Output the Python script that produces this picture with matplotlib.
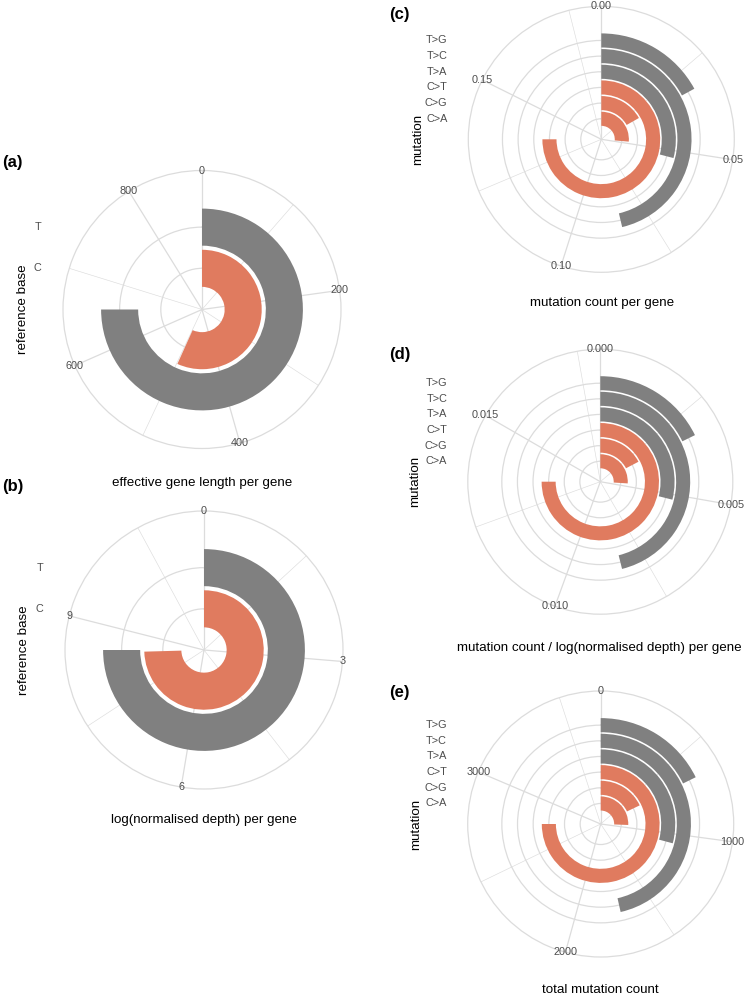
import numpy as np
import matplotlib
matplotlib.use('Agg')
import matplotlib.pyplot as plt

plt.rcParams['font.family'] = ['Liberation Sans', 'DejaVu Sans']

# data
ref_base = ['C', 'T']
gene_length = [498, 658]
log_depth = [8.50, 8.55]

mutations = ['C>A', 'C>G', 'C>T', 'T>A', 'T>C', 'T>G']
count_per_gene = [0.048, 0.0306, 0.1366, 0.0529, 0.0843, 0.0311]
count_per_depth = [0.00468, 0.00312, 0.0135, 0.0052, 0.0083, 0.00319]
total_count = [942, 660, 2764, 1075, 1712, 653]

ticks_a = [0, 200, 400, 600, 800]
ticks_b = [0, 3, 6, 9]
ticks_c = [0.00, 0.05, 0.10, 0.15]
ticks_d = [0.000, 0.005, 0.010, 0.015]
ticks_e = [0, 1000, 2000, 3000]

ORANGE = '#E07B5F'
GREY = '#808080'
GRID = '#DCDCDC'
TXT = '#4D4D4D'

W, H = 745, 997
fig = plt.figure(figsize=(W / 100, H / 100), dpi=100)


def radial(cx, cy, R, cats, vals, ticks, fmt, step, rlim, tag, xlab, ylab,
           ylab_dx, tag_xy, xlab_xy):
    ax = fig.add_axes([(cx - R) / W, 1 - (cy + R) / H, 2 * R / W, 2 * R / H],
                      projection='polar')
    ax.set_theta_zero_location('N')
    ax.set_theta_direction(-1)
    full = max(vals) * 4 / 3
    to_rad = lambda v: np.asarray(v, dtype=float) / full * 2 * np.pi
    minor = np.arange(step / 2, full, step)
    ax.set_xticks(to_rad(ticks))
    ax.set_xticks(to_rad(minor), minor=True)
    ax.set_xticklabels([])
    n = len(cats)
    pos = np.arange(1, n + 1)
    ax.set_ylim(*rlim)
    ax.set_yticks(pos)
    ax.set_yticklabels([])
    ax.tick_params(length=0, which='both')
    ax.xaxis.grid(True, which='major', color=GRID, lw=0.9)
    ax.xaxis.grid(True, which='minor', color=GRID, lw=0.45)
    ax.yaxis.grid(True, color=GRID, lw=0.9)
    ax.spines['polar'].set_color(GRID)
    ax.spines['polar'].set_linewidth(0.9)
    ax.set_axisbelow(True)

    cols = [ORANGE if c.startswith('C') else GREY for c in cats]
    ax.bar(0, 0.9, width=to_rad(vals), bottom=pos - 0.45, align='edge',
           color=cols, edgecolor='none', zorder=3)

    for t in ticks:
        ax.text(to_rad(t), rlim[1], fmt.format(t), ha='center', va='center',
                fontsize=7.8, color=TXT, clip_on=False, zorder=4)
    for p, c in zip(pos, cats):
        ax.annotate(c, xy=(0, p), xytext=(-(R / 0.9 + 6) * 0.72, 0),
                    textcoords='offset points', ha='right', va='center',
                    fontsize=7.8, color=TXT)
    fig.text((cx + ylab_dx) / W, 1 - cy / H, ylab, rotation=90,
             ha='center', va='center', fontsize=9.6)
    fig.text(tag_xy[0] / W, 1 - tag_xy[1] / H, tag, ha='left', va='center',
             fontsize=12, fontweight='bold')
    fig.text(xlab_xy[0] / W, 1 - xlab_xy[1] / H, xlab, ha='center',
             va='center', fontsize=9.6)
    return ax


radial(202, 309.5, 139, ref_base, gene_length, ticks_a, '{:d}', 200,
       (0, 3.375), '(a)', 'effective gene length per gene', 'reference base',
       -179, (2, 163), (202, 483))
radial(204, 650, 139, ref_base, log_depth, ticks_b, '{:d}', 3,
       (0, 3.375), '(b)', 'log(normalised depth) per gene', 'reference base',
       -180, (2, 487), (204, 820))
radial(601.3, 139.3, 133, mutations, count_per_gene, ticks_c, '{:.2f}', 0.05,
       (-0.31, 8.18), '(c)', 'mutation count per gene', 'mutation',
       -183, (389, 15), (602, 303))
radial(600.3, 481.7, 132.5, mutations, count_per_depth, ticks_d, '{:.3f}', 0.005,
       (-0.31, 8.18), '(d)', 'mutation count / log(normalised depth) per gene',
       'mutation', -185, (389, 355), (599, 648))
radial(600.7, 824, 133, mutations, total_count, ticks_e, '{:d}', 1000,
       (-0.31, 8.18), '(e)', 'total mutation count', 'mutation',
       -185, (389, 692), (600, 990))

fig.savefig('out.png', dpi=100)
